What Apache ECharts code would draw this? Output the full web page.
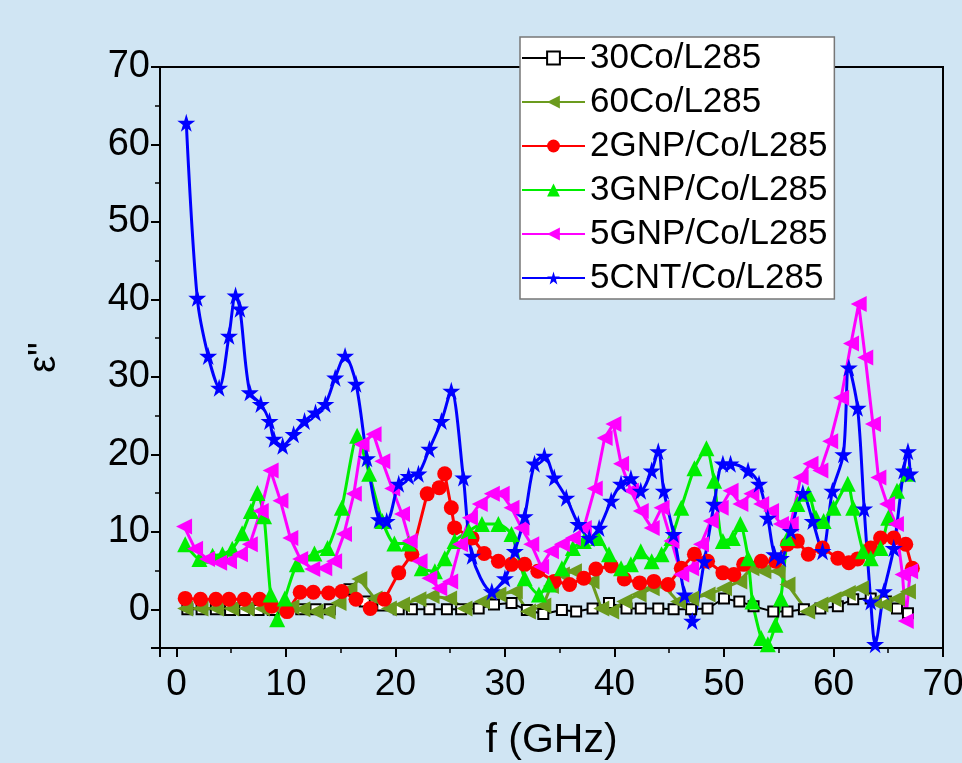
<!DOCTYPE html>
<html>
<head>
<meta charset="utf-8">
<script src="https://cdn.jsdelivr.net/npm/echarts@6/dist/echarts.min.js"></script>
<style>
html,body{margin:0;padding:0;background:#d0e5f3;}
#chart{width:962px;height:763px;}
</style>
</head>
<body>
<div id="chart"></div>
<script>
// ---- data (frequency in GHz, epsilon'') ----
const seriesNames = ["30Co/L285","60Co/L285","2GNP/Co/L285","3GNP/Co/L285","5GNP/Co/L285","5CNT/Co/L285"];

const blk_f = [1.0,2.3,3.6,4.9,6.2,7.5,8.8,10.1,11.4,12.7,14.0,15.8,17.2,18.8,20.3,21.5,23.1,24.7,26.0,27.6,29.0,30.6,32.0,33.5,35.2,36.5,38.0,39.5,41.1,42.4,44.0,45.4,47.0,48.5,50.0,51.4,52.7,54.5,55.8,57.3,58.8,60.4,61.8,63.4,64.8,65.8,66.8];
const blk_v = [0.0,0.0,0.0,-0.1,-0.1,-0.1,-0.1,-0.1,0.0,0.0,0.0,2.6,1.0,0.5,0.0,0.0,0.0,0.0,0.0,0.1,0.6,0.8,-0.1,-0.6,-0.1,-0.3,0.1,0.8,0.1,0.1,0.1,0.0,0.0,0.1,1.4,1.0,0.4,-0.3,-0.3,0.0,0.1,0.4,1.3,1.4,1.0,0.1,-0.5];

const olv_f = [0.8,2.2,3.6,5.0,6.4,7.8,9.2,10.5,11.5,12.7,13.8,14.8,15.8,16.7,18.1,19.4,20.6,22.1,23.3,24.9,26.3,27.9,29.4,30.9,32.1,33.5,34.2,35.2,36.3,37.9,38.8,39.7,40.9,42.2,43.4,44.5,45.8,47.0,48.5,50.0,51.4,52.5,53.6,54.9,55.8,57.6,58.8,60.0,61.3,62.5,63.7,64.6,65.8,66.8];
const olv_v = [0.1,0.1,0.1,0.1,0.1,0.1,0.2,0.3,0.0,-0.3,-0.3,0.8,2.6,3.9,1.4,0.1,0.6,1.3,1.7,1.4,0.1,1.0,1.9,2.3,-0.3,0.5,3.0,4.5,4.9,3.6,0.1,-0.3,1.0,1.9,2.7,3.0,1.0,1.4,1.9,2.7,3.6,5.3,4.9,4.9,3.2,-0.3,0.6,1.3,2.1,2.7,1.0,0.6,1.4,2.3];

const red_f = [0.8,2.2,3.6,4.8,6.2,7.6,8.7,10.1,11.3,12.5,13.9,15.1,16.4,17.7,19.0,20.3,21.5,22.9,24.0,24.5,25.1,25.4,27.0,28.1,29.4,30.6,31.8,33.0,34.5,35.9,37.2,38.3,39.7,40.9,42.3,43.6,44.9,46.1,47.3,48.5,49.9,50.9,51.8,53.4,54.7,55.8,56.7,57.7,59.0,60.4,61.4,62.2,63.4,64.3,65.5,66.6,67.2];
const red_v = [1.4,1.3,1.3,1.3,1.3,1.3,0.4,-0.3,2.2,2.2,2.1,2.3,1.3,0.1,1.3,4.7,7.1,14.9,15.7,17.5,13.1,10.5,9.2,7.2,6.2,5.8,5.8,4.9,3.6,3.2,4.0,5.2,5.6,3.9,3.4,3.6,3.2,5.3,7.1,6.2,4.7,4.5,5.8,6.2,6.2,8.4,8.8,7.1,7.9,6.6,6.0,6.5,7.9,9.2,9.2,8.4,5.3];

const grn_f = [0.8,2.1,3.3,4.2,5.1,6.0,6.8,7.4,8.0,8.6,9.2,9.9,11.0,12.6,13.8,15.1,16.5,17.6,18.8,19.9,21.2,22.4,23.6,24.5,25.4,26.7,27.9,29.4,30.6,31.8,33.1,34.0,35.2,36.2,37.2,38.5,39.5,40.6,41.5,42.4,43.4,44.3,45.2,46.1,47.3,48.4,49.1,49.9,50.8,51.5,52.2,52.6,53.4,54.0,54.7,55.2,55.8,56.7,57.7,58.4,59.1,60.0,61.3,61.8,62.7,63.4,64.3,65.0,65.8,66.8];
const grn_v = [8.4,6.5,6.9,7.1,7.8,9.8,12.7,15.0,12.0,1.9,-1.3,1.4,5.8,7.2,7.9,13.1,22.4,17.5,11.4,8.5,8.5,5.3,4.9,6.6,8.8,10.1,11.0,11.0,9.7,4.0,1.9,3.2,5.3,7.9,8.8,9.2,7.1,5.3,5.8,7.5,6.2,7.1,9.2,13.1,18.2,20.8,16.6,8.8,9.2,11.0,6.6,1.0,-3.7,-4.5,-2.0,1.4,9.2,13.6,14.9,11.8,11.4,13.1,16.2,13.1,7.5,6.6,7.9,11.8,15.3,17.5];

const mag_f = [0.7,1.7,2.8,3.9,4.8,5.8,6.7,7.7,8.6,9.5,10.4,11.3,12.4,13.5,14.4,15.3,16.2,16.9,18.0,18.8,19.7,20.6,21.3,22.2,23.1,24.0,25.0,25.9,26.8,27.7,28.8,29.7,30.6,31.5,32.4,33.3,34.2,35.2,36.2,37.2,38.2,39.1,39.9,40.6,41.5,42.4,43.4,44.3,45.2,46.1,47.0,47.9,48.8,49.7,50.6,51.5,52.5,53.4,54.3,55.2,56.1,57.0,57.9,58.8,59.7,60.7,61.6,62.3,62.9,63.6,64.1,64.9,65.7,66.3,66.6,67.0];
const mag_v = [10.7,7.8,6.5,6.0,6.2,7.1,8.4,12.7,17.9,14.0,9.2,6.5,5.2,5.3,6.2,9.7,14.9,21.3,22.6,19.1,15.6,12.3,8.8,6.2,4.0,2.7,3.6,8.4,11.8,13.6,14.9,14.9,13.1,10.5,8.4,5.5,7.5,8.4,9.2,10.5,15.6,22.1,23.9,18.8,15.3,12.7,10.5,13.1,8.8,4.5,5.3,8.4,11.4,13.1,15.3,13.6,14.9,13.6,12.7,11.0,11.0,17.0,18.8,17.9,21.7,27.3,34.3,39.4,32.5,23.9,17.0,13.6,11.0,4.5,-1.5,4.9];

const cnt_f = [0.9,1.9,2.9,3.9,4.8,5.4,5.8,6.7,7.7,8.5,8.9,9.7,10.7,11.7,12.7,13.6,14.5,15.4,16.4,17.4,18.5,19.2,20.3,21.2,22.1,23.1,24.2,25.1,26.2,27.0,28.8,30.0,30.9,31.8,32.7,33.6,34.5,35.6,36.7,37.7,38.6,39.7,40.6,41.5,42.4,43.4,44.0,44.5,45.4,46.4,47.1,48.2,49.1,49.9,50.6,52.2,53.2,54.0,54.6,55.2,56.1,57.2,58.1,59.0,59.9,60.9,61.4,62.2,62.8,63.4,63.8,64.6,65.5,66.4,66.8,67.0];
const cnt_v = [62.8,40.2,32.7,28.6,35.3,40.5,38.8,28.0,26.5,24.3,22.0,21.1,22.6,24.3,25.4,26.5,29.9,32.7,29.1,19.5,11.6,11.4,16.2,17.2,17.5,20.7,24.3,28.2,17.0,6.9,2.3,4.0,7.5,12.0,18.8,19.8,17.0,14.4,11.0,9.2,10.5,14.0,16.2,16.9,15.3,17.9,20.4,15.3,9.7,1.9,-1.5,6.2,13.6,18.8,18.8,17.9,16.2,11.8,7.1,6.6,10.1,15.0,11.4,7.5,15.3,20.0,31.2,26.0,13.0,1.0,-4.5,2.3,7.9,17.9,20.4,17.5];

const xTicks = [0,10,20,30,40,50,60,70];
const yTicks = [0,10,20,30,40,50,60,70];
const xTitle = 'f (GHz)';
const yTitle = 'ε"';

function pairs(f, v){ return f.map((x,i)=>[x, v[i]]); }

const STAR = 'path://M50,0 L61,35 L98,35 L68,57 L79,91 L50,70 L21,91 L32,57 L2,35 L39,35 Z';
const LTRI = 'path://M0,50 L100,0 L100,100 Z';
const FONT = '"Liberation Sans", Arial, sans-serif';

const chart = echarts.init(document.getElementById('chart'));
const option = {
  backgroundColor: '#d0e5f3',
  animation: false,
  grid: {left:160, right:19, top:67, bottom:115, containLabel:false, outerBoundsMode:'none',
    show:true, borderColor:'#000', borderWidth:2, backgroundColor:'transparent'},
  legend: {
    orient:'vertical', left:520, top:37,
    backgroundColor:'#fff', borderColor:'#777', borderWidth:1.5,
    padding:[3,7,3,1],
    itemWidth:63, itemHeight:16, itemGap:8,
    textStyle:{fontFamily:FONT, fontSize:35, color:'#000', lineHeight:36, padding:[0,0,0,0]},
    data: seriesNames
  },
  xAxis: {
    type:'value', min:-1.5, max:70, splitNumber:7, minInterval:10, maxInterval:10,
    name:xTitle, nameLocation:'middle', nameGap:72, nameMoveOverlap:false,
    nameTextStyle:{fontFamily:FONT, fontSize:41, color:'#000'},
    axisLine:{show:true, onZero:false, lineStyle:{color:'#000', width:2}},
    axisTick:{show:true, inside:false, length:9, lineStyle:{color:'#000', width:2}},
    minorTick:{show:true, splitNumber:2, length:5, lineStyle:{color:'#000', width:1.5}},
    axisLabel:{fontFamily:FONT, fontSize:37, color:'#000', margin:18, showMinLabel:false, hideOverlap:false,
      formatter: v => xTicks.includes(v) ? String(v) : ''},
    splitLine:{show:false}
  },
  yAxis: {
    type:'value', min:-5, max:70, splitNumber:8, minInterval:10, maxInterval:10,
    name:yTitle, nameLocation:'middle', nameGap:96, nameMoveOverlap:false,
    nameTextStyle:{fontFamily:FONT, fontSize:38, color:'#000'},
    axisLine:{show:true, onZero:false, lineStyle:{color:'#000', width:2}},
    axisTick:{show:true, inside:false, length:9, lineStyle:{color:'#000', width:2}},
    minorTick:{show:true, splitNumber:2, length:5, lineStyle:{color:'#000', width:1.5}},
    axisLabel:{fontFamily:FONT, fontSize:38, color:'#000', margin:10, showMinLabel:false,
      formatter: v => yTicks.includes(v) ? String(v) : ''},
    splitLine:{show:false}
  },
  series: [
    {name:seriesNames[0], type:'line', data:pairs(blk_f, blk_v), symbol:'rect', symbolSize:10,
      itemStyle:{color:'#fff', borderColor:'#000', borderWidth:2}, lineStyle:{color:'#000', width:2}},
    {name:seriesNames[1], type:'line', data:pairs(olv_f, olv_v), symbol:LTRI, symbolSize:[16,16],
      itemStyle:{color:'#6b9b1e'}, lineStyle:{color:'#6b9b1e', width:3}},
    {name:seriesNames[2], type:'line', data:pairs(red_f, red_v), symbol:'circle', symbolSize:15,
      itemStyle:{color:'#ff0000'}, lineStyle:{color:'#ff0000', width:3}},
    {name:seriesNames[3], type:'line', data:pairs(grn_f, grn_v), symbol:'triangle', symbolSize:16,
      itemStyle:{color:'#00ee00'}, lineStyle:{color:'#00ee00', width:3}, smooth:0.2},
    {name:seriesNames[4], type:'line', data:pairs(mag_f, mag_v), symbol:LTRI, symbolSize:[16,16],
      itemStyle:{color:'#ff00ff'}, lineStyle:{color:'#ff00ff', width:3}},
    {name:seriesNames[5], type:'line', data:pairs(cnt_f, cnt_v), symbol:STAR, symbolSize:18,
      itemStyle:{color:'#0000ff'}, lineStyle:{color:'#0000ff', width:3}, smooth:0.3}
  ]
};
chart.setOption(option);
</script>
</body>
</html>
